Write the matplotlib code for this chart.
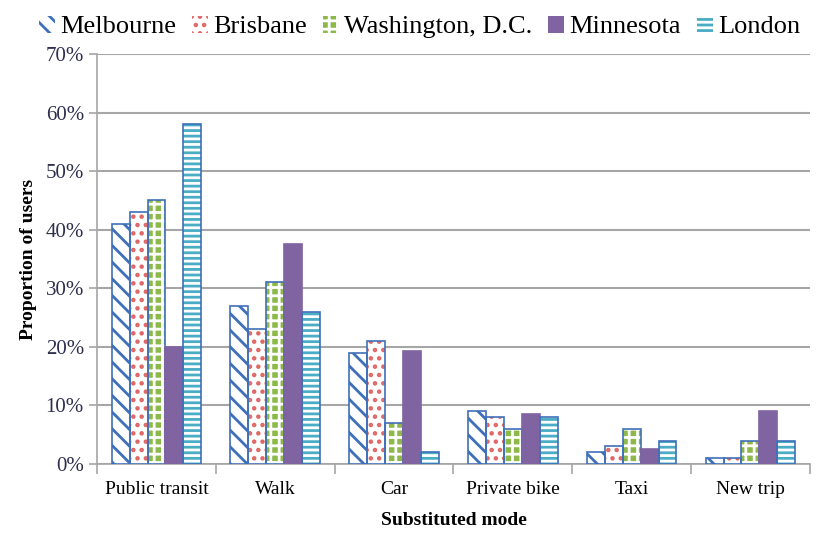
import numpy as np
import matplotlib.pyplot as plt

modes = ['Public transit', 'Walk', 'Car', 'Private bike', 'Taxi', 'New trip']
cities = ['Melbourne', 'Brisbane', 'Washington, D.C.', 'Minnesota', 'London']
melbourne = [41, 27, 19, 9, 2, 1]
brisbane = [43, 23, 21, 8, 3, 1]
washington = [45, 31, 7, 6, 6, 4]
minnesota = [20, 37.5, 19.3, 8.5, 2.5, 9]
london = [58, 26, 2, 8, 4, 4]
series = [melbourne, brisbane, washington, minnesota, london]

# fill style per city: (facecolor, hatch, hatch colour, outline colour)
styles = [
    ('white', '\\\\', '#3E6FB8', '#3E6FB8'),
    ('white', '..', '#E06666', '#3E6FB8'),
    ('#8DB84A', '++', 'white', '#3E6FB8'),
    ('#8064A2', None, '#8064A2', '#8064A2'),
    ('white', '---', '#4BACC6', '#3E6FB8'),
]

plt.rcParams['font.family'] = 'Liberation Serif'
plt.rcParams['hatch.linewidth'] = 2.0

fig = plt.figure(figsize=(8.23, 5.33), dpi=100)
ax = fig.add_axes([0.118, 0.1295, 0.866, 0.7692])

x = np.arange(len(modes))
w = 0.151
handles = []
for i, (vals, st) in enumerate(zip(series, styles)):
    fc, hatch, hc, ec = st
    pos = x + (i - 2) * w
    ax.bar(pos, vals, w, color=fc, hatch=hatch, edgecolor=hc, linewidth=0, zorder=3)
    ax.bar(pos, vals, w, fill=False, edgecolor=ec, linewidth=1.2, zorder=4)
    h = plt.Rectangle((0, 0), 1, 1, facecolor=fc, hatch=hatch, edgecolor=hc, linewidth=0)
    handles.append(h)

ax.set_xlim(-0.5, len(modes) - 0.5)
ax.set_ylim(0, 70)
ax.set_yticks(range(0, 71, 10))
ax.set_yticklabels([f'{v}%' for v in range(0, 71, 10)], fontsize=15, color='#2E2E4F')
ax.yaxis.grid(True, color='#A6A6A6', linewidth=1.5, zorder=0)
ax.set_axisbelow(True)

ax.set_xticks(x)
ax.set_xticklabels(modes, fontsize=14)
ax.tick_params(axis='x', length=0, pad=12)
ax.set_xticks(np.arange(-0.5, len(modes), 1), minor=True)
ax.tick_params(axis='x', which='minor', length=7, color='#A6A6A6', width=1.2)
ax.tick_params(axis='y', length=6, color='#A6A6A6', width=1.2)

for s in ['top', 'right']:
    ax.spines[s].set_visible(False)
for s in ['left', 'bottom']:
    ax.spines[s].set_color('#A6A6A6')
    ax.spines[s].set_linewidth(1.2)

ax.set_xlabel('Substituted mode', fontsize=14, fontweight='bold', labelpad=10)
ax.set_ylabel('Proportion of users', fontsize=14, fontweight='bold', labelpad=6)

fig.legend(handles, cities, loc='upper center', bbox_to_anchor=(0.51, 1.015), ncol=5,
           frameon=False, fontsize=19, handlelength=0.6, handleheight=0.6,
           handletextpad=0.2, columnspacing=0.6)

plt.savefig('out.png', dpi=100)
